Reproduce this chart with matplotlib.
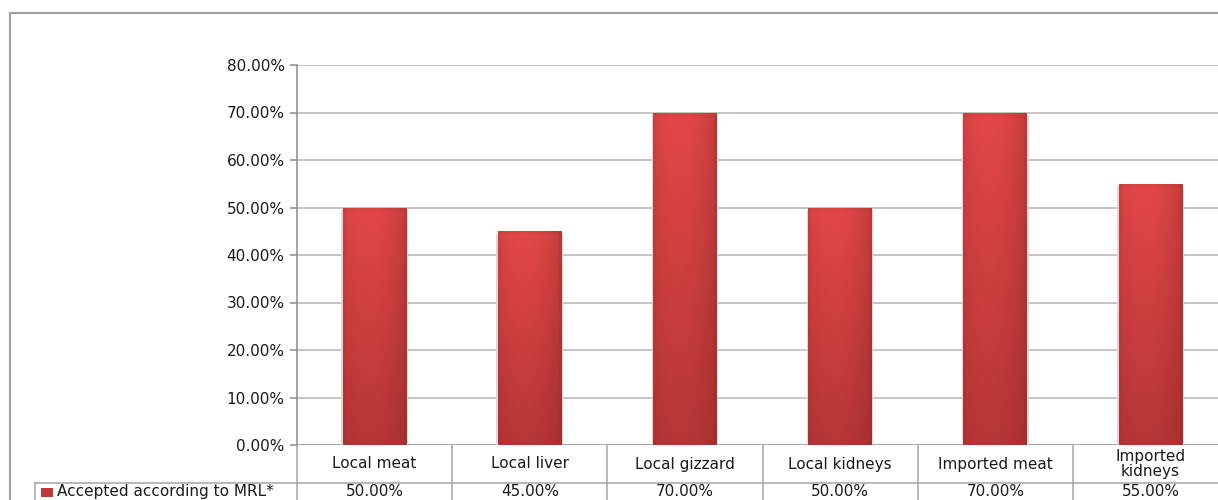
import numpy as np
import matplotlib.pyplot as plt
from matplotlib.lines import Line2D
from matplotlib.patches import Rectangle

# data
categories = ['Local meat', 'Local liver', 'Local gizzard', 'Local kidneys',
              'Imported meat', 'Imported\nkidneys']
values = [50.0, 45.0, 70.0, 50.0, 70.0, 55.0]
value_labels = ['50.00%', '45.00%', '70.00%', '50.00%', '70.00%', '55.00%']
series_name = 'Accepted according to MRL*'
yticks = [0, 10, 20, 30, 40, 50, 60, 70, 80]

plt.rcParams['font.family'] = ['DejaVu Sans']
W, H = 1218, 500
fig = plt.figure(figsize=(W / 100, H / 100), dpi=100)

ax_left, ax_right = 297, 1228
ax_bot, ax_top = 445, 65
ax = fig.add_axes([ax_left / W, (H - ax_bot) / H,
                   (ax_right - ax_left) / W, (ax_bot - ax_top) / H])

n = len(categories)
x = np.arange(n)
fs = 11
txt_c = '#1a1a1a'

for t in yticks:
    ax.axhline(t, color='#b4b4b4' if t > 0 else '#8c8c8c', lw=1.1, zorder=1)

# gradient fill for the bars
gx = np.linspace(0, 1, 60)
gy = np.linspace(0, 1, 120)
hx = 1 - 0.9 * (gx - 0.4) ** 2
hx[:3] *= 0.93
hx[-3:] *= 0.9
hy = 0.55 + 0.45 * gy
hy[-2:] *= 0.92
shade = np.outer(hy, hx)
light = np.array([0.89, 0.28, 0.28])
dark = np.array([0.50, 0.13, 0.13])
img = dark + (light - dark) * shade[..., None]

bw = 0.41
bars = ax.bar(x, values, width=bw, color='#c83a3a', edgecolor='none', zorder=2)
for b in bars:
    x0, y0 = b.get_x(), b.get_y()
    im = ax.imshow(img, extent=[x0, x0 + b.get_width(), y0, y0 + b.get_height()],
                   origin='lower', aspect='auto', zorder=3, interpolation='bilinear')
    im.set_clip_path(b)
    # soft shadow either side
    ax.add_patch(Rectangle((x0 - 0.01, y0), b.get_width() + 0.02, b.get_height() - 0.5,
                           color='#d8d8d8', zorder=1.5, lw=0))
ax.set_xlim(-0.5, n - 0.5)
ax.set_ylim(0, 80)

ax.set_yticks(yticks)
ax.set_yticklabels([f'{t:.2f}%' for t in yticks], fontsize=fs, color=txt_c)
ax.tick_params(axis='y', length=5, color='#8c8c8c', width=1.1, pad=4)
ax.set_xticks([])
for s in ['top', 'right', 'bottom']:
    ax.spines[s].set_visible(False)
ax.spines['left'].set_color('#8c8c8c')
ax.spines['left'].set_linewidth(1.1)

# data table under the plot
tab_c = '#a6a6a6'
ph = ax_bot - ax_top
trans = ax.get_xaxis_transform()
for i in range(n + 1):
    ax.add_line(Line2D([i - 0.5, i - 0.5], [0, -70 / ph], transform=trans,
                       color=tab_c, lw=1.1, clip_on=False))
for i, c in enumerate(categories):
    ax.text(i, -19 / ph, c, transform=trans, ha='center', va='center',
            fontsize=fs, color=txt_c, linespacing=0.95, clip_on=False)
    ax.text(i, -47 / ph, value_labels[i], transform=trans,
            ha='center', va='center', fontsize=fs, color=txt_c, clip_on=False)


# legend cell (figure pixels)
def fx(p):
    return p / W


def fy(p):
    return 1 - p / H


fig.add_artist(Line2D([fx(35), fx(1230)], [fy(483), fy(483)], color=tab_c, lw=1.1))
fig.add_artist(Line2D([fx(35), fx(35)], [fy(483), fy(505)], color=tab_c, lw=1.1))
fig.add_artist(Rectangle((fx(41), fy(497)), fx(12), 9 / H, color='#c0393b', lw=0))
fig.text(fx(57), fy(491.5), series_name, ha='left', va='center', fontsize=fs,
         color=txt_c)

# outer chart border
fig.add_artist(Line2D([fx(10), fx(10)], [fy(13), fy(505)], color='#a0a0a0', lw=1.5))
fig.add_artist(Line2D([fx(10), fx(1230)], [fy(13), fy(13)], color='#a0a0a0', lw=1.5))

fig.savefig('out.png', dpi=100)
